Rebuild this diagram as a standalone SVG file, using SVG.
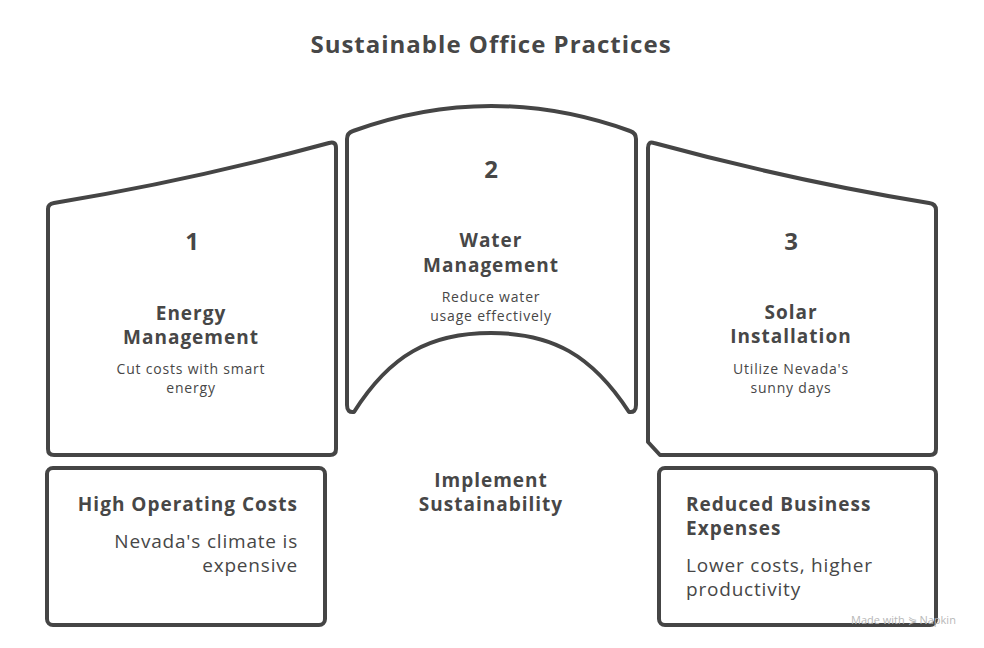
<svg xmlns="http://www.w3.org/2000/svg" width="984" height="648" viewBox="0 0 984 648">
<style>
.shape{fill:#ffffff;stroke:#454545;stroke-width:4;stroke-linejoin:round;stroke-linecap:round}
text{font-family:"Open Sans","Liberation Sans",sans-serif;fill:#474747}
.t{font-size:24px;font-weight:700;letter-spacing:1px}
.n{font-size:24px;font-weight:700;text-anchor:middle}
.h{font-size:19px;font-weight:700;text-anchor:middle;letter-spacing:1px}
.d{font-size:14px;text-anchor:middle;letter-spacing:0.8px}
.bh{font-size:19px;font-weight:700;letter-spacing:1px}
.bd{font-size:19px;letter-spacing:0.8px}
.wm{font-size:11px;fill:#b8b8b8}
</style>
<rect width="984" height="648" fill="#ffffff"/>
<text class="t" x="491" y="53" text-anchor="middle">Sustainable Office Practices</text>

<g id="node-energy">
<path class="shape" d="M54,203 Q189,181 329,143 Q336,141 336,148 L336,449 Q336,455 330,455 L54,455 Q48,455 48,449 L48,209 Q48,204 54,203 Z"/>
<text class="n" x="192" y="250">1</text>
<text class="h" x="191" y="320">Energy</text>
<text class="h" x="191" y="344">Management</text>
<text class="d" x="191" y="374">Cut costs with smart</text>
<text class="d" x="191" y="393">energy</text>
</g>

<g id="node-water">
<path class="shape" d="M353,131 Q491,81 630,131 Q636,133 636,139 L636,405 Q636,413 629,412 C592,355 552,333 491,333 C430,333 390,355 354,412 Q347,413 347,405 L347,139 Q347,133 353,131 Z"/>
<text class="n" x="491" y="178">2</text>
<text class="h" x="491" y="247">Water</text>
<text class="h" x="491" y="272">Management</text>
<text class="d" x="491" y="302">Reduce water</text>
<text class="d" x="491" y="321">usage effectively</text>
</g>

<g id="node-solar">
<path class="shape" d="M654,143 Q794,181 929,203 Q936,204 936,210 L936,449 Q936,455 930,455 L660,455 L648,442 L648,148 Q648,141 654,143 Z"/>
<text class="n" x="791" y="250">3</text>
<text class="h" x="791" y="319">Solar</text>
<text class="h" x="791" y="343">Installation</text>
<text class="d" x="791" y="374">Utilize Nevada's</text>
<text class="d" x="791" y="393">sunny days</text>
</g>

<g id="node-implement">
<text class="h" x="491" y="487">Implement</text>
<text class="h" x="491" y="511">Sustainability</text>
</g>

<g id="node-costs">
<rect class="shape" x="47" y="468" width="278" height="157" rx="6"/>
<text class="bh" x="298" y="511" text-anchor="end">High Operating Costs</text>
<text class="bd" x="298" y="548" text-anchor="end">Nevada's climate is</text>
<text class="bd" x="298" y="572" text-anchor="end">expensive</text>
</g>

<g id="node-reduced">
<rect class="shape" x="659" y="468" width="277" height="157" rx="6"/>
<text class="bh" x="686" y="511">Reduced Business</text>
<text class="bh" x="686" y="535">Expenses</text>
<text class="bd" x="686" y="572">Lower costs, higher</text>
<text class="bd" x="686" y="596">productivity</text>
</g>

<g id="connectors"></g>

<text class="wm" x="851" y="624">Made with ⋟ Napkin</text>
</svg>
